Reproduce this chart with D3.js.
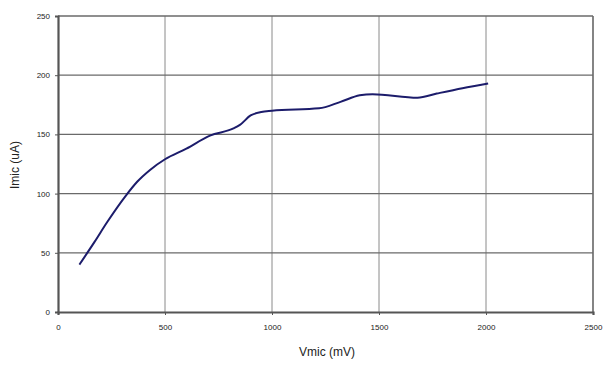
<!DOCTYPE html>
<meta charset="utf-8">
<style>
	body { margin: 0; background: #fff; }
	.tick text { font: 8px "Liberation Sans", Arial, sans-serif; fill: #222; }
	.title { font: 12px "Liberation Sans", Arial, sans-serif; fill: #222; }
</style>
<svg width="606" height="365"></svg>
<script src="https://d3js.org/d3.v7.min.js"></script>
<script>

	// data
	var vmic = [100, 170, 230, 320, 370, 430, 500, 600, 710, 820, 850, 900, 950, 1000, 1220, 1320, 1410, 1470, 1680, 1770, 1890, 2010];
	var imic = [40, 59, 76, 99, 110, 120, 129, 138, 149, 155, 158, 166, 169, 170, 172, 177.5, 183, 184, 181, 184.5, 189, 193];
	var xTicks = [0, 500, 1000, 1500, 2000, 2500];
	var yTicks = [0, 50, 100, 150, 200, 250];

	var margin = {top: 16, right: 13, bottom: 53, left: 58},
		width = 606 - margin.left - margin.right,
		height = 365 - margin.top - margin.bottom;

	var svg = d3.select("svg");
	var g = svg.append("g").attr("transform", "translate(" + margin.left + "," + margin.top + ")");

	var x = d3.scaleLinear().domain([0, 2500]).range([0, width]);
	var y = d3.scaleLinear().domain([0, 250]).range([height, 0]);

	// grid
	g.append("g").selectAll("line").data(xTicks.slice(1))
		.enter().append("line")
		.attr("x1", function(d) { return x(d); }).attr("x2", function(d) { return x(d); })
		.attr("y1", 0).attr("y2", height)
		.attr("stroke", function(d) { return d == 2500 ? "#666" : "#8a8a8a"; })
		.attr("stroke-width", function(d) { return d == 2500 ? 1.6 : 1; });
	g.append("g").selectAll("line").data(yTicks.slice(1))
		.enter().append("line")
		.attr("y1", function(d) { return y(d); }).attr("y2", function(d) { return y(d); })
		.attr("x1", 0).attr("x2", width)
		.attr("stroke", "#6a6a6a").attr("stroke-width", 1.3);

	// axes
	var fmt = d3.format("d");
	var xAxis = g.append("g").attr("transform", "translate(0," + height + ")")
		.call(d3.axisBottom(x).tickValues(xTicks).tickFormat(fmt).tickSize(3).tickPadding(9));
	var yAxis = g.append("g")
		.call(d3.axisLeft(y).tickValues(yTicks).tickFormat(fmt).tickSize(3).tickPadding(5));
	[xAxis, yAxis].forEach(function(a) {
		a.select(".domain").attr("stroke", "#555").attr("stroke-width", 2.2);
		a.selectAll(".tick line").attr("stroke", "#555");
	});

	// the curve
	var line = d3.line()
		.x(function(d, i) { return x(vmic[i]); })
		.y(function(d) { return y(d); })
		.curve(d3.curveMonotoneX);

	g.append("path")
		.datum(imic)
		.attr("d", line)
		.attr("fill", "none")
		.attr("stroke", "#1c1c6b")
		.attr("stroke-width", 2);

	// titles
	svg.append("text").attr("class", "title")
		.attr("x", 327).attr("y", 356)
		.attr("text-anchor", "middle")
		.text("Vmic (mV)");
	svg.append("text").attr("class", "title")
		.attr("transform", "translate(19,165) rotate(-90)")
		.attr("text-anchor", "middle")
		.text("Imic (uA)");

</script>
